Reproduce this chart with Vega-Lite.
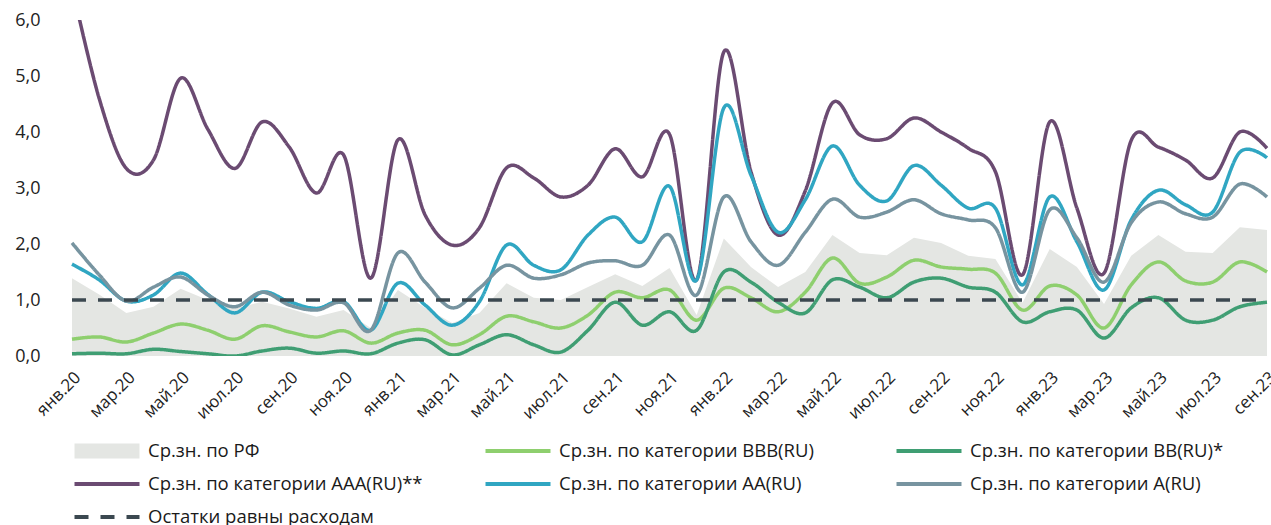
{
  "$schema": "https://vega.github.io/schema/vega-lite/v6.json",
  "autosize": {"type": "none"},
  "padding": {"left": 58, "top": 20, "right": 0, "bottom": 169},
  "width": 1213,
  "height": 336,
  "config": {
    "view": {"stroke": null},
    "font": "Open Sans",
    "axis": {"grid": false, "ticks": false, "domain": false, "labelColor": "#222222", "labelFont": "Open Sans"},
    "legend": {"labelFont": "Open Sans"}
  },
  "datasets": {
    "d": [
      {"m": "янв.20", "rf": 1.39, "bbb": 0.30, "bb": 0.04, "aaa": 6.6, "aa": 1.64, "a": 2.02, "ost": 1},
      {"m": "фев.20", "rf": 1.10, "bbb": 0.34, "bb": 0.05, "aaa": 4.6, "aa": 1.36, "a": 1.45, "ost": 1},
      {"m": "мар.20", "rf": 0.77, "bbb": 0.25, "bb": 0.04, "aaa": 3.35, "aa": 0.98, "a": 0.98, "ost": 1},
      {"m": "апр.20", "rf": 0.88, "bbb": 0.41, "bb": 0.12, "aaa": 3.5, "aa": 1.09, "a": 1.23, "ost": 1},
      {"m": "май.20", "rf": 1.20, "bbb": 0.57, "bb": 0.08, "aaa": 4.96, "aa": 1.48, "a": 1.41, "ost": 1},
      {"m": "июн.20", "rf": 1.00, "bbb": 0.46, "bb": 0.04, "aaa": 4.05, "aa": 1.10, "a": 1.09, "ost": 1},
      {"m": "июл.20", "rf": 0.85, "bbb": 0.30, "bb": 0.00, "aaa": 3.35, "aa": 0.77, "a": 0.88, "ost": 1},
      {"m": "авг.20", "rf": 0.97, "bbb": 0.54, "bb": 0.09, "aaa": 4.18, "aa": 1.14, "a": 1.14, "ost": 1},
      {"m": "сен.20", "rf": 0.85, "bbb": 0.43, "bb": 0.14, "aaa": 3.73, "aa": 0.97, "a": 0.91, "ost": 1},
      {"m": "окт.20", "rf": 0.70, "bbb": 0.34, "bb": 0.05, "aaa": 2.91, "aa": 0.85, "a": 0.82, "ost": 1},
      {"m": "ноя.20", "rf": 0.82, "bbb": 0.45, "bb": 0.09, "aaa": 3.59, "aa": 0.97, "a": 0.95, "ost": 1},
      {"m": "дек.20", "rf": 0.50, "bbb": 0.23, "bb": 0.04, "aaa": 1.39, "aa": 0.46, "a": 0.46, "ost": 1},
      {"m": "янв.21", "rf": 1.18, "bbb": 0.41, "bb": 0.23, "aaa": 3.86, "aa": 1.30, "a": 1.84, "ost": 1},
      {"m": "фев.21", "rf": 0.86, "bbb": 0.46, "bb": 0.29, "aaa": 2.52, "aa": 0.91, "a": 1.32, "ost": 1},
      {"m": "мар.21", "rf": 0.59, "bbb": 0.20, "bb": 0.02, "aaa": 1.98, "aa": 0.55, "a": 0.86, "ost": 1},
      {"m": "апр.21", "rf": 0.77, "bbb": 0.38, "bb": 0.20, "aaa": 2.29, "aa": 0.97, "a": 1.21, "ost": 1},
      {"m": "май.21", "rf": 1.30, "bbb": 0.71, "bb": 0.38, "aaa": 3.36, "aa": 1.98, "a": 1.62, "ost": 1},
      {"m": "июн.21", "rf": 1.04, "bbb": 0.61, "bb": 0.20, "aaa": 3.18, "aa": 1.62, "a": 1.39, "ost": 1},
      {"m": "июл.21", "rf": 1.00, "bbb": 0.50, "bb": 0.07, "aaa": 2.84, "aa": 1.54, "a": 1.45, "ost": 1},
      {"m": "авг.21", "rf": 1.23, "bbb": 0.73, "bb": 0.46, "aaa": 3.05, "aa": 2.16, "a": 1.66, "ost": 1},
      {"m": "сен.21", "rf": 1.46, "bbb": 1.14, "bb": 0.96, "aaa": 3.70, "aa": 2.48, "a": 1.70, "ost": 1},
      {"m": "окт.21", "rf": 1.25, "bbb": 1.04, "bb": 0.55, "aaa": 3.20, "aa": 2.04, "a": 1.62, "ost": 1},
      {"m": "ноя.21", "rf": 1.57, "bbb": 1.18, "bb": 0.79, "aaa": 3.96, "aa": 3.03, "a": 2.16, "ost": 1},
      {"m": "дек.21", "rf": 0.73, "bbb": 0.64, "bb": 0.46, "aaa": 1.36, "aa": 1.36, "a": 1.09, "ost": 1},
      {"m": "янв.22", "rf": 2.10, "bbb": 1.21, "bb": 1.50, "aaa": 5.43, "aa": 4.43, "a": 2.84, "ost": 1},
      {"m": "фев.22", "rf": 1.59, "bbb": 1.04, "bb": 1.32, "aaa": 3.29, "aa": 3.23, "a": 2.04, "ost": 1},
      {"m": "мар.22", "rf": 1.23, "bbb": 0.79, "bb": 0.96, "aaa": 2.16, "aa": 2.21, "a": 1.62, "ost": 1},
      {"m": "апр.22", "rf": 1.50, "bbb": 1.14, "bb": 0.77, "aaa": 2.95, "aa": 2.79, "a": 2.21, "ost": 1},
      {"m": "май.22", "rf": 2.16, "bbb": 1.75, "bb": 1.36, "aaa": 4.52, "aa": 3.75, "a": 2.80, "ost": 1},
      {"m": "июн.22", "rf": 1.84, "bbb": 1.30, "bb": 1.23, "aaa": 3.95, "aa": 3.05, "a": 2.48, "ost": 1},
      {"m": "июл.22", "rf": 1.80, "bbb": 1.41, "bb": 1.04, "aaa": 3.88, "aa": 2.77, "a": 2.57, "ost": 1},
      {"m": "авг.22", "rf": 2.11, "bbb": 1.71, "bb": 1.32, "aaa": 4.25, "aa": 3.40, "a": 2.79, "ost": 1},
      {"m": "сен.22", "rf": 2.02, "bbb": 1.59, "bb": 1.39, "aaa": 4.00, "aa": 3.05, "a": 2.54, "ost": 1},
      {"m": "окт.22", "rf": 1.79, "bbb": 1.55, "bb": 1.23, "aaa": 3.71, "aa": 2.64, "a": 2.43, "ost": 1},
      {"m": "ноя.22", "rf": 1.73, "bbb": 1.48, "bb": 1.14, "aaa": 3.29, "aa": 2.64, "a": 2.29, "ost": 1},
      {"m": "дек.22", "rf": 0.95, "bbb": 0.82, "bb": 0.61, "aaa": 1.45, "aa": 1.27, "a": 1.14, "ost": 1},
      {"m": "янв.23", "rf": 1.91, "bbb": 1.25, "bb": 0.79, "aaa": 4.18, "aa": 2.84, "a": 2.61, "ost": 1},
      {"m": "фев.23", "rf": 1.59, "bbb": 1.09, "bb": 0.82, "aaa": 2.64, "aa": 2.04, "a": 2.11, "ost": 1},
      {"m": "мар.23", "rf": 0.93, "bbb": 0.50, "bb": 0.32, "aaa": 1.48, "aa": 1.18, "a": 1.32, "ost": 1},
      {"m": "апр.23", "rf": 1.79, "bbb": 1.27, "bb": 0.86, "aaa": 3.85, "aa": 2.43, "a": 2.38, "ost": 1},
      {"m": "май.23", "rf": 2.16, "bbb": 1.68, "bb": 1.04, "aaa": 3.73, "aa": 2.96, "a": 2.75, "ost": 1},
      {"m": "июн.23", "rf": 1.86, "bbb": 1.34, "bb": 0.64, "aaa": 3.50, "aa": 2.70, "a": 2.54, "ost": 1},
      {"m": "июл.23", "rf": 1.84, "bbb": 1.32, "bb": 0.64, "aaa": 3.18, "aa": 2.57, "a": 2.48, "ost": 1},
      {"m": "авг.23", "rf": 2.30, "bbb": 1.68, "bb": 0.88, "aaa": 4.00, "aa": 3.64, "a": 3.07, "ost": 1},
      {"m": "сен.23", "rf": 2.25, "bbb": 1.50, "bb": 0.96, "aaa": 3.71, "aa": 3.54, "a": 2.84, "ost": 1}
    ]
  },
  "data": {"name": "d"},
  "encoding": {
    "x": {
      "field": "m", "type": "ordinal", "sort": null,
      "scale": {"type": "point", "range": [14, 1209], "padding": 0},
      "axis": {
        "title": null,
        "values": ["янв.20","мар.20","май.20","июл.20","сен.20","ноя.20","янв.21","мар.21","май.21","июл.21","сен.21","ноя.21","янв.22","мар.22","май.22","июл.22","сен.22","ноя.22","янв.23","мар.23","май.23","июл.23","сен.23"],
        "labelAngle": -45, "labelFontSize": 17, "labelPadding": 13
      }
    }
  },
  "layer": [
    {
      "transform": [{"fold": ["rf"], "as": ["s", "v"]}],
      "mark": {"type": "area", "opacity": 1, "interpolate": "linear"},
      "encoding": {
        "y": {
          "field": "v", "type": "quantitative",
          "scale": {"domain": [0, 6], "nice": false, "zero": true},
          "axis": {"title": null, "values": [0,1,2,3,4,5,6], "labelExpr": "replace(format(datum.value, '.1f'), '.', ',')", "labelFontSize": 18, "labelPadding": 18}
        },
        "color": {
          "field": "s", "type": "nominal",
          "scale": {
            "domain": ["rf", "bbb", "bb", "aaa", "aa", "a", "ost"],
            "range": ["#e4e6e3", "#8ecf6e", "#3f9e73", "#6b4b72", "#30a6c2", "#7794a0", "#3b4850"]
          },
          "legend": {
            "title": null,
            "orient": "none",
            "legendX": 9,
            "legendY": 421,
            "columns": 3,
            "direction": "horizontal",
            "gridAlign": "all",
            "columnPadding": 55,
            "rowPadding": 13,
            "padding": 0,
            "clipHeight": 20,
            "symbolType": "stroke",
            "symbolSize": 4225,
            "labelOffset": 1,
            "labelFontSize": 18.5,
            "labelColor": "#1a1a1a",
            "labelLimit": 500,
            "labelExpr": "datum.value === 'rf' ? 'Ср.зн. по РФ' : datum.value === 'bbb' ? 'Ср.зн. по категории BBB(RU)' : datum.value === 'bb' ? 'Ср.зн. по категории BB(RU)*' : datum.value === 'aaa' ? 'Ср.зн. по категории AAA(RU)**' : datum.value === 'aa' ? 'Ср.зн. по категории AA(RU)' : datum.value === 'a' ? 'Ср.зн. по категории A(RU)' : 'Остатки равны расходам'"
          }
        },
        "strokeWidth": {
          "field": "s", "type": "nominal", "title": null,
          "scale": {"type": "ordinal", "domain": ["rf", "bbb", "bb", "aaa", "aa", "a", "ost"], "range": [15, 4, 4, 4, 4, 4, 4]}
        }
      }
    },
    {
      "transform": [{"fold": ["bbb", "bb", "aaa", "aa", "a"], "as": ["s", "v"]}],
      "mark": {"type": "line", "interpolate": "cardinal", "strokeWidth": 3.5, "clip": true},
      "encoding": {
        "y": {"field": "v", "type": "quantitative"},
        "color": {"field": "s", "type": "nominal"},
        "strokeDash": {
          "field": "s", "type": "nominal", "title": null,
          "scale": {"domain": ["rf", "bbb", "bb", "aaa", "aa", "a", "ost"], "range": [[1, 0], [1, 0], [1, 0], [1, 0], [1, 0], [1, 0], [14, 12]]}
        }
      }
    },
    {
      "mark": {"type": "rule", "color": "#3b4850", "strokeWidth": 2},
      "encoding": {"y": {"datum": 0}}
    },
    {
      "transform": [{"fold": ["ost"], "as": ["s", "v"]}],
      "mark": {"type": "line", "strokeWidth": 3.5},
      "encoding": {
        "y": {"field": "v", "type": "quantitative"},
        "color": {"field": "s", "type": "nominal"},
        "strokeDash": {"field": "s", "type": "nominal", "title": null}
      }
    }
  ]
}
